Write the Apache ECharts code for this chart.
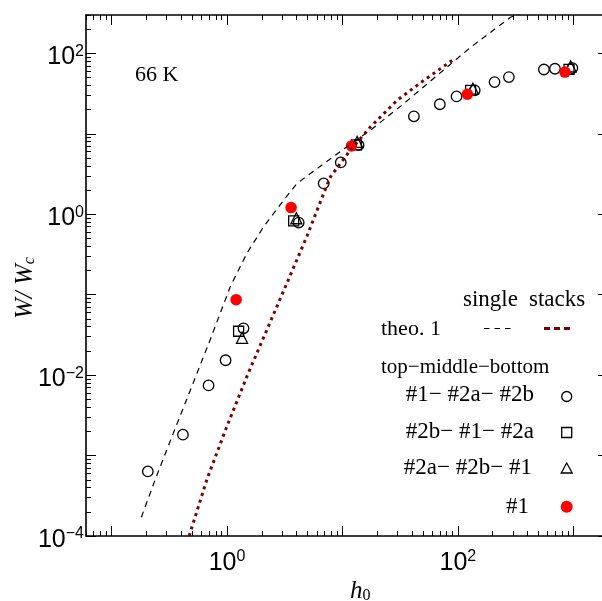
<!DOCTYPE html>
<html>
<head>
<meta charset="utf-8">
<script src="https://cdn.jsdelivr.net/npm/echarts@6/dist/echarts.min.js"></script>
<style>
html, body { margin: 0; padding: 0; background: #fff; }
#chart { width: 602px; height: 601px; }
</style>
</head>
<body>
<div id="chart"></div>
<script>
// theory curves, h0 -> W/Wc
var singleH = [0.181, 0.239, 0.344, 0.497, 0.716, 1.07, 1.49, 2.08, 3.10, 4.05, 9.94, 17.5, 34.0, 66.2, 129, 286, 355];
var singleW = [1.71e-4, 5.06e-4, 1.93e-3, 7.31e-3, 0.0277, 0.127, 0.329, 0.702, 1.50, 2.42, 6.26, 11.1, 23.7, 53.2, 119, 281, 316];
var stacksH = [0.470, 0.671, 1.00, 1.49, 2.22, 3.31, 4.94, 6.88, 7.87, 11.7, 17.5, 29.8, 50.7, 89.3];
var stacksW = [1.0e-4, 5.1e-4, 2.33e-3, 9.7e-3, 0.0368, 0.140, 0.538, 1.82, 2.92, 6.26, 12.2, 26.1, 46.2, 81.7];

// measurements
var circH = [0.206, 0.415, 0.692, 0.972, 1.39, 4.18, 6.88, 9.67, 13.8, 41.6, 69.8, 97.5, 140, 208, 277, 557, 694, 982];
var circW = [6.35e-4, 1.82e-3, 7.45e-3, 0.0153, 0.0382, 0.787, 2.42, 4.41, 7.22, 16.5, 23.3, 29.2, 34.7, 44.0, 50.7, 63.0, 64.4, 65.6];
var sqH = [1.26, 3.78, 13.2, 129, 919];
var sqW = [0.0351, 0.826, 7.3, 34.7, 63.1];
var triH = [1.35, 3.99, 13.4, 135, 949];
var triW = [0.0291, 0.892, 7.94, 36.4, 68.8];
var redH = [1.20, 3.59, 12.0, 121, 847];
var redW = [0.0867, 1.21, 7.08, 31.0, 58.5];

// axes (log10 exponents)
var xMin = 0.06, xMax = 2000;
var yMin = 1e-4, yMax = 300;
var xMajor = [-1, 0, 1, 2, 3];
var xLabels = [0, 2];
var yMajor = [-4, -3, -2, -1, 0, 1, 2];
var yLabels = [-4, -2, 0, 2];
var minorMult = [2, 3, 4, 5, 6, 7, 8, 9];

function zip(a, b) {
    return a.map(function (v, i) { return [v, b[i]]; });
}
function minorTicks(lo, hi) {
    var res = [];
    for (var e = Math.floor(Math.log10(lo)) - 1; e <= Math.ceil(Math.log10(hi)); e++) {
        minorMult.forEach(function (m) {
            var v = Math.log10(m) + e;
            if (v >= Math.log10(lo) - 1e-9 && v <= Math.log10(hi) + 1e-9) res.push(v);
        });
    }
    return res;
}
function expLabel(v) {
    var s = String(Math.round(v)).replace('-', '\u2212');
    return '{b|10}{s|' + s + '}';
}

var serif = 'Liberation Serif';
var sans = 'Liberation Sans';
var labelRich = {
    b: { fontFamily: sans, fontSize: 25, lineHeight: 28, color: '#000' },
    s: { fontFamily: sans, fontSize: 16, lineHeight: 12, verticalAlign: 'top', color: '#000' }
};

function overlayAxis(dim, pos, lo, hi, ticks, len, labels, line) {
    var ax = {
        type: 'value',
        position: pos,
        min: Math.log10(lo),
        max: Math.log10(hi),
        splitLine: { show: false },
        axisLine: { show: line, onZero: false, lineStyle: { color: '#000', width: 1.6 } },
        axisTick: { show: true, inside: true, length: len, customValues: ticks,
            lineStyle: { color: '#000', width: 1 } },
        axisLabel: { show: false }
    };
    if (labels) {
        ax.axisLabel = {
            show: true,
            customValues: labels,
            formatter: expLabel,
            rich: labelRich,
            margin: dim === 'x' ? 13 : 2,
            padding: dim === 'x' ? 0 : [8, 0, 0, 0]
        };
    }
    return ax;
}

var markStyle = { color: 'transparent', borderColor: '#000', borderWidth: 1.3, opacity: 1 };

var myChart = echarts.init(document.getElementById('chart'));

var option = {
    backgroundColor: '#fff',
    animation: false,
    grid: { left: 86, top: 15, width: 522, height: 521, outerBoundsMode: 'none', containLabel: false },
    xAxis: [
        { type: 'log', logBase: 10, min: xMin, max: xMax, show: false },
        overlayAxis('x', 'bottom', xMin, xMax, xMajor, 10, xLabels, true),
        overlayAxis('x', 'bottom', xMin, xMax, minorTicks(xMin, xMax), 5, null, false),
        overlayAxis('x', 'top', xMin, xMax, xMajor, 10, null, true),
        overlayAxis('x', 'top', xMin, xMax, minorTicks(xMin, xMax), 5, null, false)
    ],
    yAxis: [
        { type: 'log', logBase: 10, min: yMin, max: yMax, show: false },
        overlayAxis('y', 'left', yMin, yMax, yMajor, 10, yLabels, true),
        overlayAxis('y', 'left', yMin, yMax, minorTicks(yMin, yMax), 5, null, false),
        overlayAxis('y', 'right', yMin, yMax, yMajor, 10, null, true),
        overlayAxis('y', 'right', yMin, yMax, minorTicks(yMin, yMax), 5, null, false)
    ],
    series: [
        {
            name: 'single', type: 'line', data: zip(singleH, singleW),
            showSymbol: false, symbol: 'none',
            lineStyle: { color: '#000', width: 1.2, type: [6, 5] }
        },
        {
            name: 'stacks', type: 'line', data: zip(stacksH, stacksW),
            showSymbol: false, symbol: 'none',
            lineStyle: { color: '#7a0000', width: 3, type: [3, 4] }
        },
        {
            name: '#1- #2a- #2b', type: 'scatter', data: zip(circH, circW),
            symbol: 'circle', symbolSize: 10.5, itemStyle: markStyle
        },
        {
            name: '#2b- #1- #2a', type: 'scatter', data: zip(sqH, sqW),
            symbol: 'rect', symbolSize: 10, itemStyle: markStyle
        },
        {
            name: '#2a- #2b- #1', type: 'scatter', data: zip(triH, triW),
            symbol: 'triangle', symbolSize: 11, itemStyle: markStyle
        },
        {
            name: '#1', type: 'scatter', data: zip(redH, redW),
            symbol: 'circle', symbolSize: 11.5,
            itemStyle: { color: '#ff0000', opacity: 1 }
        }
    ],
    graphic: [
        { type: 'text', x: 135, y: 75, style: { text: '66 K', fontFamily: serif, fontSize: 22, fill: '#000', verticalAlign: 'middle' } },
        // axis titles
        { type: 'text', x: 25, y: 288, rotation: Math.PI / 2,
          style: { text: '{w|W/ W}{c|c}', align: 'center', verticalAlign: 'middle',
            rich: {
                w: { fontFamily: serif, fontStyle: 'italic', fontSize: 25, lineHeight: 26, color: '#000' },
                c: { fontFamily: serif, fontStyle: 'italic', fontSize: 16, lineHeight: 10, verticalAlign: 'bottom', color: '#000' }
            } } },
        { type: 'text', x: 350, y: 578,
          style: { text: '{h|h}{o|0}', verticalAlign: 'top',
            rich: {
                h: { fontFamily: serif, fontStyle: 'italic', fontSize: 25, lineHeight: 26, color: '#000' },
                o: { fontFamily: serif, fontSize: 16, lineHeight: 2, padding: [0, 0, 0, 0], verticalAlign: 'bottom', color: '#000' }
            } } },
        // legend
        { type: 'text', x: 463, y: 300, style: { text: 'single', fontFamily: serif, fontSize: 23, fill: '#000', verticalAlign: 'middle' } },
        { type: 'text', x: 529, y: 300, style: { text: 'stacks', fontFamily: serif, fontSize: 23, fill: '#000', verticalAlign: 'middle' } },
        { type: 'text', x: 381, y: 329, style: { text: 'theo. 1', fontFamily: serif, fontSize: 22, fill: '#000', verticalAlign: 'middle' } },
        { type: 'line', shape: { x1: 484, y1: 328.5, x2: 511, y2: 328.5 }, style: { stroke: '#000', lineWidth: 1.2, lineDash: [5.5, 5] } },
        { type: 'line', shape: { x1: 544, y1: 328.5, x2: 570, y2: 328.5 }, style: { stroke: '#7a0000', lineWidth: 3, lineDash: [6, 4] } },
        { type: 'text', x: 381, y: 367, style: { text: 'top\u2212middle\u2212bottom', fontFamily: serif, fontSize: 21, fill: '#000', verticalAlign: 'middle' } },
        { type: 'text', x: 534, y: 395, style: { text: '#1\u2212 #2a\u2212 #2b', fontFamily: serif, fontSize: 23, fill: '#000', align: 'right', verticalAlign: 'middle' } },
        { type: 'text', x: 534, y: 432, style: { text: '#2b\u2212 #1\u2212 #2a', fontFamily: serif, fontSize: 23, fill: '#000', align: 'right', verticalAlign: 'middle' } },
        { type: 'text', x: 532, y: 468, style: { text: '#2a\u2212 #2b\u2212 #1', fontFamily: serif, fontSize: 23, fill: '#000', align: 'right', verticalAlign: 'middle' } },
        { type: 'text', x: 529, y: 507, style: { text: '#1', fontFamily: serif, fontSize: 23, fill: '#000', align: 'right', verticalAlign: 'middle' } },
        { type: 'circle', shape: { cx: 566.7, cy: 396.5, r: 5 }, style: { fill: 'none', stroke: '#000', lineWidth: 1.3 } },
        { type: 'rect', shape: { x: 561.7, y: 427.5, width: 10, height: 10 }, style: { fill: 'none', stroke: '#000', lineWidth: 1.3 } },
        { type: 'polygon', shape: { points: [[566.7, 463], [572.2, 473], [561.2, 473]] }, style: { fill: 'none', stroke: '#000', lineWidth: 1.3 } },
        { type: 'circle', shape: { cx: 566.7, cy: 506.7, r: 6 }, style: { fill: '#ff0000' } }
    ]
};

myChart.setOption(option);
</script>
</body>
</html>
